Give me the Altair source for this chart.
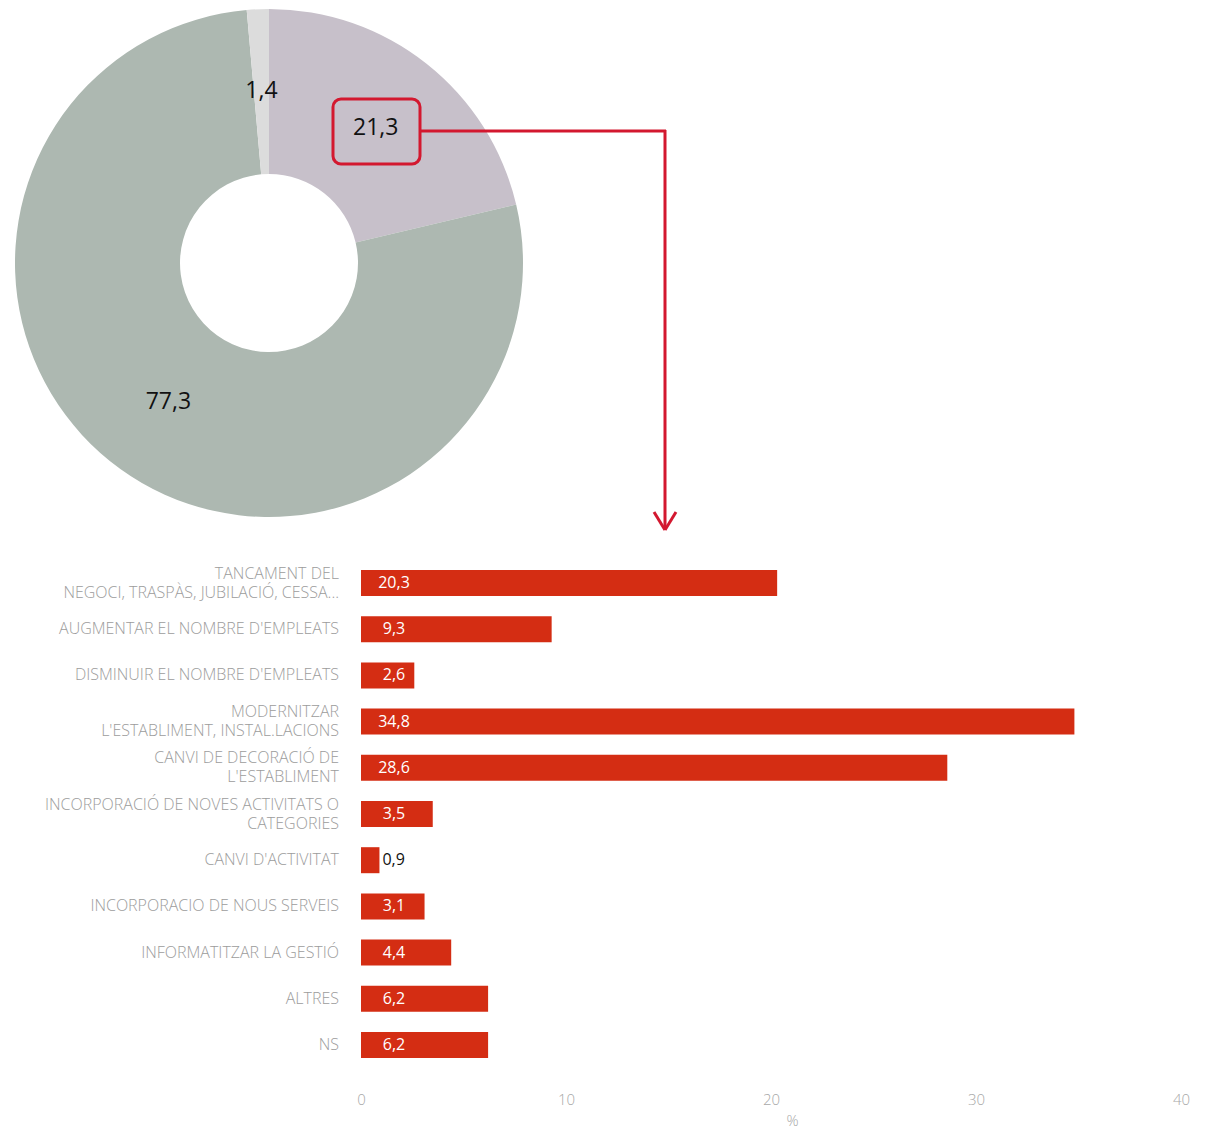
import altair as alt
import pandas as pd

# ---- data ----
pie_groups = ["Sí", "No", "NS/NC"]
pie_values = [21.3, 77.3, 1.4]
pie_colors = ["#c7c0ca", "#adb8b1", "#dcdcdc"]

categories = [
    "TANCAMENT DEL\nNEGOCI, TRASPÀS, JUBILACIÓ, CESSA...",
    "AUGMENTAR EL NOMBRE D'EMPLEATS",
    "DISMINUIR EL NOMBRE D'EMPLEATS",
    "MODERNITZAR\nL'ESTABLIMENT, INSTAL.LACIONS",
    "CANVI DE DECORACIÓ DE\nL'ESTABLIMENT",
    "INCORPORACIÓ DE NOVES ACTIVITATS O\nCATEGORIES",
    "CANVI D'ACTIVITAT",
    "INCORPORACIO DE NOUS SERVEIS",
    "INFORMATITZAR LA GESTIÓ",
    "ALTRES",
    "NS",
]
values = [20.3, 9.3, 2.6, 34.8, 28.6, 3.5, 0.9, 3.1, 4.4, 6.2, 6.2]
x_ticks = [0, 10, 20, 30, 40]

pie_df = pd.DataFrame({"grup": pie_groups, "pct": pie_values, "ordre": list(range(len(pie_groups)))})
bar_df = pd.DataFrame({"cat": categories, "pct": values})

RED = "#d3182f"
BAR = "#d42d13"
FONT = "Open Sans"
LBL = "replace(format(datum.pct, '.1f'), '.', ',')"

W, H = 1194, 1080
CX, CY = 261, 255

theta = alt.Theta("pct:Q", stack=True)
order = alt.Order("ordre:Q")

arcs = alt.Chart(pie_df).mark_arc(outerRadius=254, innerRadius=89).encode(
    theta=theta,
    order=order,
    color=alt.Color("grup:N", scale=alt.Scale(domain=pie_groups, range=pie_colors), legend=None),
    x=alt.value(CX),
    y=alt.value(CY),
)

pie_text = alt.Chart(pie_df).transform_calculate(lbl=LBL).mark_text(
    radius=172, fontSize=23, font=FONT, color="#111111"
).encode(
    theta=theta,
    order=order,
    text="lbl:N",
    x=alt.value(CX),
    y=alt.value(CY),
)

ann = alt.Data(values=[{}])
box = alt.Chart(ann).mark_rect(filled=False, stroke=RED, strokeWidth=3, cornerRadius=8).encode(
    x=alt.value(325), x2=alt.value(412), y=alt.value(91), y2=alt.value(156)
)
h_line = alt.Chart(ann).mark_rule(color=RED, strokeWidth=3).encode(
    x=alt.value(412), x2=alt.value(658), y=alt.value(123), y2=alt.value(123)
)
v_line = alt.Chart(ann).mark_rule(color=RED, strokeWidth=3).encode(
    x=alt.value(657), x2=alt.value(657), y=alt.value(122), y2=alt.value(521)
)
arm1 = alt.Chart(ann).mark_rule(color=RED, strokeWidth=3).encode(
    x=alt.value(646), x2=alt.value(657), y=alt.value(504), y2=alt.value(522)
)
arm2 = alt.Chart(ann).mark_rule(color=RED, strokeWidth=3).encode(
    x=alt.value(668), x2=alt.value(657), y=alt.value(504), y2=alt.value(522)
)

xscale = alt.Scale(domain=[0, 40], range=[353, 1173], nice=False)
yenc = alt.Y(
    "cat:N",
    sort=categories,
    axis=None,
    scale=alt.Scale(range=[551.9, 1060.1], paddingInner=0.437, paddingOuter=0.2185),
)

bars = alt.Chart(bar_df).mark_bar(color=BAR).encode(
    x=alt.X(
        "pct:Q",
        scale=xscale,
        axis=alt.Axis(
            values=x_ticks,
            title="%",
            grid=False,
            domain=False,
            ticks=False,
            tickSize=0,
            labelFlush=False,
            labelPadding=4,
            labelFont=FONT,
            labelFontSize=15,
            labelFontWeight=300,
            labelColor="#a8a8a8",
            titleFont=FONT,
            titleFontSize=15,
            titleFontWeight=300,
            titleColor="#a8a8a8",
            titlePadding=6,
            titleX=784,
        ),
    ),
    y=yenc,
)

val_in = alt.Chart(bar_df).transform_filter("datum.pct >= 2").transform_calculate(lbl=LBL).mark_text(
    align="center", baseline="middle", color="white", fontSize=16, font=FONT
).encode(y=yenc, x=alt.value(386), text="lbl:N")

val_out = alt.Chart(bar_df).transform_filter("datum.pct < 2").transform_calculate(lbl=LBL).mark_text(
    align="left", baseline="middle", dx=3, color="#111111", fontSize=16, font=FONT
).encode(y=yenc, x=alt.X("pct:Q", scale=xscale), text="lbl:N")

cat_style = dict(
    align="right", baseline="middle", lineBreak="\n", lineHeight=19,
    fontSize=16, font=FONT, fontWeight=300, color="#9c9c9c",
)
cat_one = alt.Chart(bar_df).transform_filter("indexof(datum.cat, '\\n') < 0").mark_text(
    **cat_style
).encode(y=yenc, x=alt.value(331), text="cat:N")
cat_two = alt.Chart(bar_df).transform_filter("indexof(datum.cat, '\\n') >= 0").mark_text(
    dy=-9.5, **cat_style
).encode(y=yenc, x=alt.value(331), text="cat:N")

chart = alt.layer(
    arcs, pie_text, box, h_line, v_line, arm1, arm2, bars, val_in, val_out, cat_one, cat_two
).properties(width=W, height=H, padding=0, background="white").configure_view(stroke=None)

chart.save("out.html", embed_options={"renderer": "svg", "actions": False})
